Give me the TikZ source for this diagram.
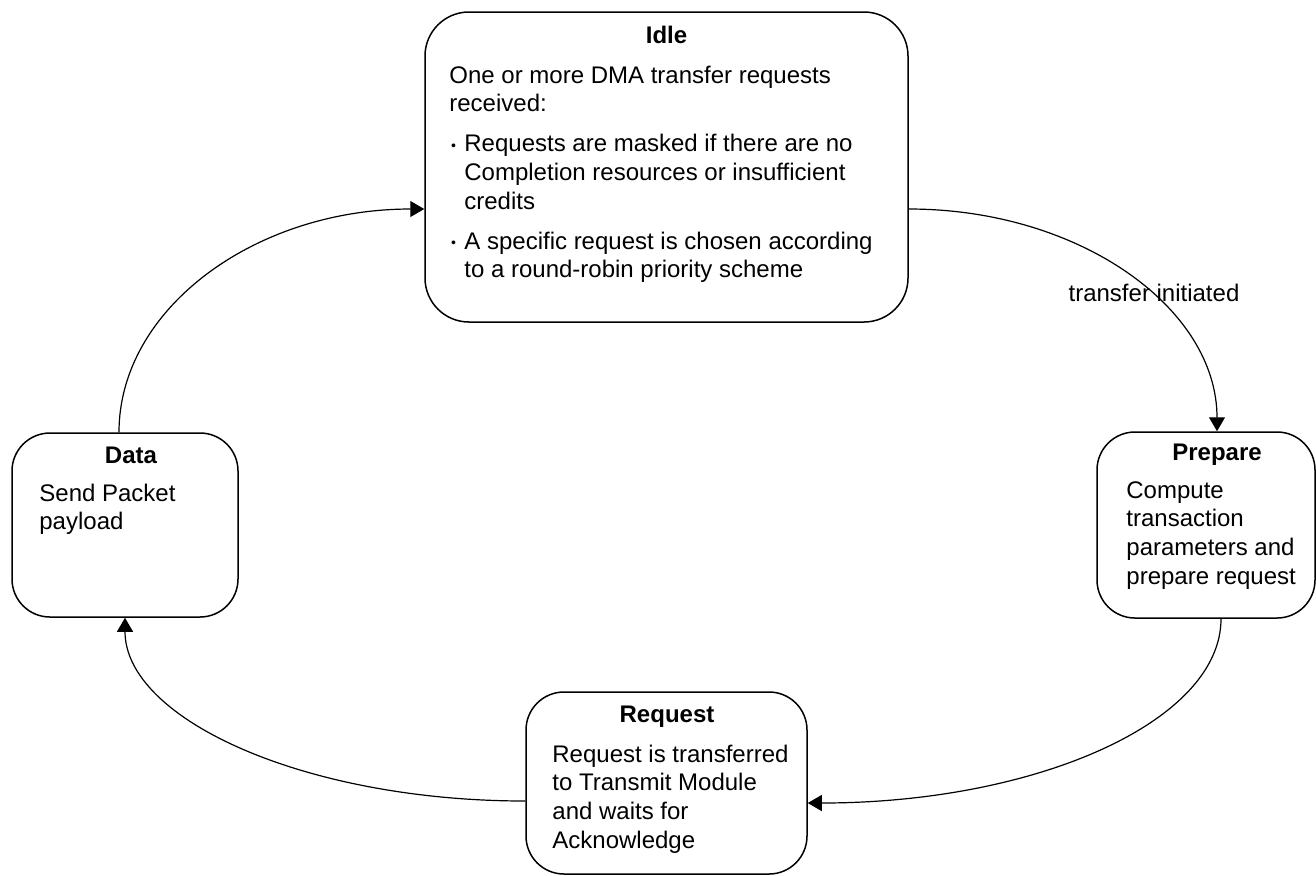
\documentclass[tikz,border=0pt]{standalone}
\usepackage{fontspec}
\setmainfont{Liberation Sans}
\usetikzlibrary{arrows.meta}
\newcommand{\bul}{\makebox[7.5pt][l]{\hspace{0.8pt}\raisebox{0.6pt}{\fontsize{7}{7}\selectfont •}}}
\newcommand{\ind}{\hspace*{7.5pt}}
\begin{document}
\begin{tikzpicture}[x=0.5pt,y=-0.5pt,
  statebox/.style={draw, line width=0.75pt, rectangle, rounded corners=19pt, inner sep=0pt},
  titletext/.style={font=\fontsize{12}{14.4}\selectfont\bfseries, inner sep=0pt, anchor=base},
  bodytext/.style={font=\fontsize{12}{14.4}\selectfont, inner sep=0pt, align=left, anchor=base west},
  conn/.style={draw, line width=0.6pt, -{Triangle[length=7pt,width=8pt]}},
  lbl/.style={font=\fontsize{12}{14.4}\selectfont, inner sep=0pt, anchor=base}]
\useasboundingbox (0,0) rectangle (1316,875);

% boxes
\node[statebox, rounded corners=22pt, minimum width=241.5pt, minimum height=155pt] (idle) at (666.5,167) {};
\node[statebox, minimum width=113pt, minimum height=92pt] (data) at (125,525) {};
\node[statebox, minimum width=109pt, minimum height=93pt] (prepare) at (1206,525) {};
\node[statebox, minimum width=140.5pt, minimum height=91pt] (request) at (666.5,783) {};

% texts (anchored at the baseline of their last line)
\node[titletext] (idlet) at (666.5,43) {Idle};
\node[bodytext] (idleb) at (449,277.8) {One or more DMA transfer requests\\
received:\\[5.5pt]
\bul Requests are masked if there are no\\
\ind Completion resources or insufficient\\
\ind credits\\[5.5pt]
\bul A specific request is chosen according\\
\ind to a round-robin priority scheme};

\node[titletext] (datat) at (131,463) {Data};
\node[bodytext] (datab) at (39,529.8) {Send Packet\\payload};

\node[titletext] (prept) at (1217,460) {Prepare};
\node[bodytext] (prepb) at (1126,584.4) {Compute\\transaction\\parameters and\\prepare request};

\node[titletext] (reqt) at (667,722) {Request};
\node[bodytext] (reqb) at (552,848.4) {Request is transferred\\to Transmit Module\\and waits for\\Acknowledge};

% connectors
\path[conn] ([yshift=-21pt]idle.east) .. controls +(170.7,0) and +(0,-123.2) .. ([xshift=5.5pt]prepare.north);
\path[conn] ([xshift=7.5pt]prepare.south) .. controls +(0,102.7) and +(228.6,0) .. ([yshift=-10pt]request.east);
\path[conn] ([yshift=-9pt]request.west) .. controls +(-221.5,0) and +(0,101) .. (data.south);
\path[conn] ([xshift=-3pt]data.north) .. controls +(0,-123.7) and +(-169,0) .. ([yshift=-21pt]idle.west);

\node[lbl] (ti) at (1154,301) {transfer initiated};
\end{tikzpicture}
\end{document}
